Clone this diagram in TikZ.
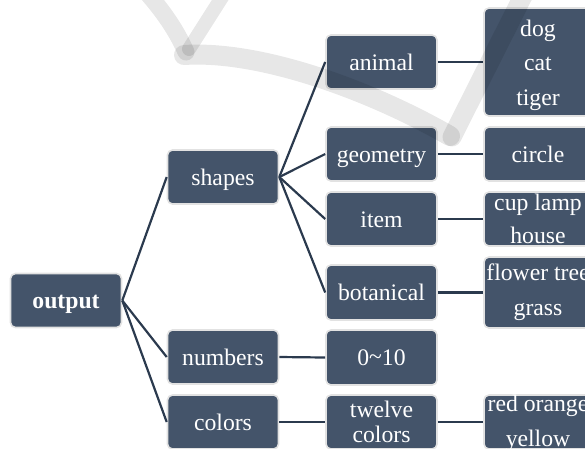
\documentclass[tikz,border=0pt]{standalone}
\usepackage{fontspec}
\setmainfont{Liberation Serif}
\definecolor{slate}{HTML}{44546A}
\definecolor{edgegray}{HTML}{E2E2E2}
\definecolor{linkcol}{HTML}{2B3A4E}
\definecolor{wmark}{HTML}{E7E7E7}
\tikzset{
  box/.style={draw=edgegray, line width=1.6pt, fill=slate, rounded corners=5pt,
    inner sep=0pt, minimum height=54pt},
  c0/.style={box, minimum width=111pt},
  c1/.style={box, minimum width=111pt},
  c2/.style={box, minimum width=111pt},
  c3/.style={box, minimum width=108pt},
  mlbl/.style={text=white, align=center, inner sep=0pt, font=\fontsize{23.7}{34.5}\selectfont},
  lbl/.style={mlbl, text height=21.1pt, text depth=5.1pt},
  link/.style={draw=linkcol, line width=2.2pt},
  wm/.style={draw=wmark, line cap=round, line join=round}
}
\begin{document}
\begin{tikzpicture}[x=1pt,y=-1pt]
\useasboundingbox (0,0) rectangle (585,448);
% boxes
\node[c0] (output) at (66,300.5) {};
\node[c1] (shapes) at (223,177) {};
\node[c1] (numbers) at (223,357) {};
\node[c1] (colors) at (223,422) {};
\node[c2] (animal) at (381.5,62) {};
\node[c2] (geometry) at (381.5,154) {};
\node[c2] (item) at (381.5,219) {};
\node[c2, minimum height=55pt] (botanical) at (381.5,292.5) {};
\node[c2, minimum height=55pt] (range) at (381.5,357.5) {};
\node[c2] (twelve) at (381.5,422) {};
\node[c3, minimum height=108pt] (dog) at (538,62) {};
\node[c3] (circle) at (538,154) {};
\node[c3] (cup) at (538,219) {};
\node[c3, minimum height=71pt] (flower) at (538,292.5) {};
\node[c3] (red) at (538,422) {};
% connectors
\foreach \a/\b in {output/shapes, output/numbers, output/colors,
  shapes/animal, shapes/geometry, shapes/item, shapes/botanical,
  animal/dog, geometry/circle, item/cup, botanical/flower,
  numbers/range, colors/twelve, twelve/red}
  \draw[link] (\a.east) -- (\b.west);
% labels
\node[lbl, font=\fontsize{23.7}{34.5}\selectfont\bfseries] (toutput) at (output.center) {output};
\node[lbl] (tshapes) at (shapes.center) {shapes};
\node[lbl] (tnumbers) at (numbers.center) {numbers};
\node[lbl] (tcolors) at (colors.center) {colors};
\node[lbl] (tanimal) at (animal.center) {animal};
\node[lbl] (tgeometry) at (geometry.center) {geometry};
\node[lbl] (titem) at (item.center) {item};
\node[lbl] (tbotanical) at (botanical.center) {botanical};
\node[lbl] (trange) at (range.center) {0\raisebox{1pt}{\textasciitilde}10};
\node[lbl] (tcircle) at (circle.center) {circle};
\node[mlbl, font=\fontsize{23.7}{24.5}\selectfont] (ttwelve) at (twelve.center) {twelve\\colors};
\node[mlbl] (tdog) at ([yshift=-3pt]dog.center) {dog\\cat\\tiger};
\node[mlbl, font=\fontsize{23.7}{33}\selectfont] (tcup) at (cup.center) {cup lamp\\house};
\node[mlbl, font=\fontsize{23.7}{35}\selectfont] (tflower) at (flower.center) {flower tree\\grass};
\node[mlbl, font=\fontsize{23.7}{35}\selectfont] (tred) at ([yshift=-1pt]red.center) {red orange\\yellow};
% watermark
\begin{scope}[blend mode=multiply]
\draw[wm, line width=17pt] (148,-6) .. controls (167,16) and (178,34) .. (186,52);
\draw[wm, line width=14pt] (224,-6) -- (189,49);
\draw[wm, line width=20pt] (184,55) .. controls (260,50) and (370,90) .. (450,136);
\draw[wm, line width=19pt] (524,-6) -- (452,137);
\end{scope}
\end{tikzpicture}
\end{document}
